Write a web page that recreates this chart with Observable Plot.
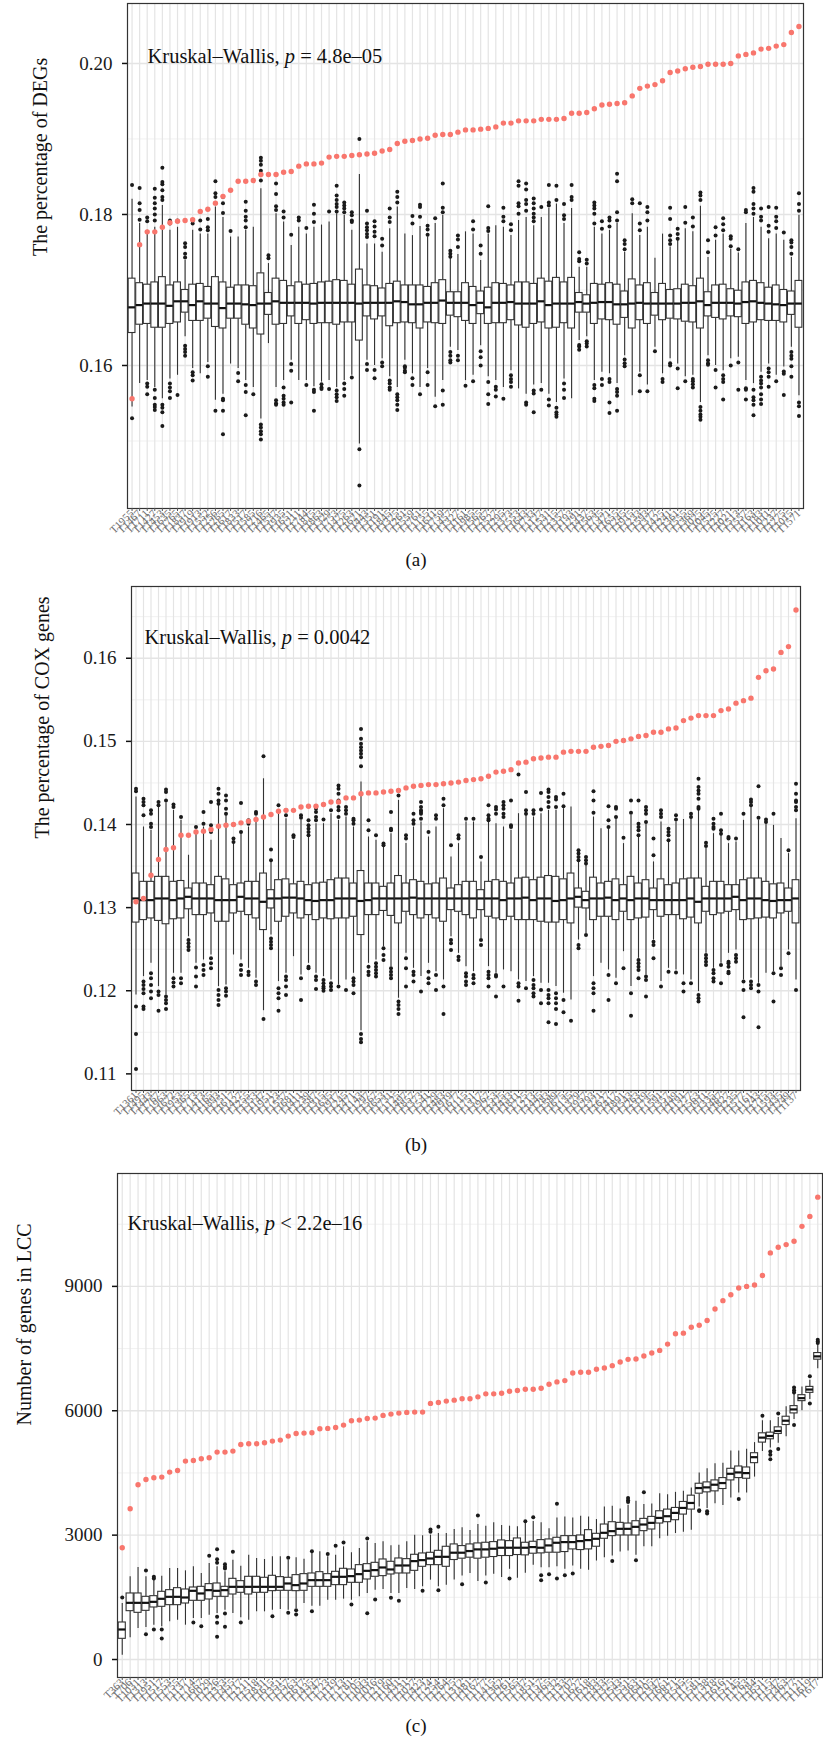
<!DOCTYPE html>
<html>
<head>
<meta charset="utf-8">
<script src="https://cdn.jsdelivr.net/npm/d3@7"></script>
<script src="https://cdn.jsdelivr.net/npm/@observablehq/plot@0.6"></script>
<style>
  html, body { margin: 0; padding: 0; background: #fff; }
  #page { position: relative; width: 823px; height: 1738px; font-family: "Liberation Serif", "DejaVu Serif", serif; }
  .panel { position: absolute; left: 0; }
  .cap { position: absolute; width: 100px; text-align: center; font-size: 19px; line-height: 20px; color: #111; }
</style>
</head>
<body>
<div id="page"></div>
<script>
// ---------- Panel (a): percentage of DEGs ----------
const namesA = ["T1955","T1467","T1711","T1427","T1453","T1635","T1765","T1837","T1919","T1913",
"T1552","T1256","T1265","T1617","T1833","T1517","T1585","T1216","T1465","T1537",
"T1935","T1651","T1211","T1744","T1815","T1863","T1329","T1753","T1475","T1263",
"T1621","T1443","T1351","T1191","T1845","T1325","T1261","T1559","T1761","T1155",
"T1611","T1759","T1457","T1327","T1161","T1985","T1565","T1267","T1527","T1295",
"T1373","T1553","T1643","T1733","T1127","T1531","T1215","T1357","T1193","T1291",
"T1437","T1563","T1735","T1471","T1655","T1245","T1915","T1233","T1593","T1377",
"T1425","T1241","T1361","T1555","T1369","T1025","T1045","T1525","T1227","T1021",
"T1513","T1557","T1163","T1183","T1011","T1237","T1275","T1015","T1571"];
const obsA = [0.1556,0.1760,0.1777,0.1777,0.1783,0.1789,0.1791,0.1792,0.1793,0.1804,
0.1807,0.1815,0.1824,0.1832,0.1844,0.1844,0.1845,0.1853,0.1853,0.1853,
0.1856,0.1857,0.1864,0.1867,0.1867,0.1868,0.1876,0.1877,0.1877,0.1878,
0.1879,0.1880,0.1881,0.1884,0.1886,0.1894,0.1897,0.1898,0.1900,0.1901,
0.1905,0.1906,0.1906,0.1909,0.1912,0.1912,0.1913,0.1914,0.1916,0.1921,
0.1921,0.1924,0.1924,0.1924,0.1926,0.1926,0.1926,0.1927,0.1934,0.1934,
0.1935,0.1940,0.1945,0.1946,0.1947,0.1948,0.1957,0.1967,0.1970,0.1972,
0.1977,0.1988,0.1990,0.1993,0.1995,0.1996,0.1999,0.1999,0.1999,0.2000,
0.2010,0.2012,0.2014,0.2019,0.2020,0.2023,0.2025,0.2041,0.2049];
const q1A = [0.1643,0.1654,0.1655,0.1650,0.1650,0.1655,0.1657,0.1670,0.1659,0.1659,
0.1662,0.1651,0.1649,0.1662,0.1662,0.1654,0.1649,0.1641,0.1667,0.1654,
0.1655,0.1665,0.1655,0.1660,0.1655,0.1656,0.1656,0.1654,0.1657,0.1657,
0.1633,0.1665,0.1661,0.1665,0.1652,0.1656,0.1657,0.1656,0.1649,0.1657,
0.1656,0.1655,0.1666,0.1664,0.1659,0.1655,0.1668,0.1655,0.1656,0.1656,
0.1660,0.1653,0.1650,0.1655,0.1657,0.1649,0.1650,0.1656,0.1649,0.1670,
0.1670,0.1655,0.1661,0.1660,0.1654,0.1663,0.1649,0.1660,0.1655,0.1666,
0.1660,0.1662,0.1661,0.1658,0.1657,0.1649,0.1665,0.1663,0.1661,0.1665,
0.1664,0.1655,0.1657,0.1660,0.1659,0.1659,0.1657,0.1667,0.1650];
const medA = [0.1677,0.1680,0.1682,0.1682,0.1682,0.1679,0.1685,0.1685,0.1680,0.1685,
0.1682,0.1682,0.1676,0.1682,0.1682,0.1681,0.1680,0.1682,0.1682,0.1685,
0.1683,0.1683,0.1683,0.1683,0.1682,0.1683,0.1683,0.1683,0.1683,0.1683,
0.1682,0.1683,0.1683,0.1683,0.1683,0.1685,0.1684,0.1681,0.1681,0.1683,
0.1683,0.1686,0.1683,0.1683,0.1683,0.1680,0.1683,0.1677,0.1683,0.1683,
0.1684,0.1682,0.1682,0.1682,0.1685,0.1680,0.1682,0.1682,0.1682,0.1684,
0.1682,0.1683,0.1684,0.1684,0.1681,0.1681,0.1682,0.1683,0.1682,0.1682,
0.1682,0.1682,0.1682,0.1683,0.1683,0.1685,0.1680,0.1683,0.1683,0.1683,
0.1682,0.1684,0.1685,0.1683,0.1682,0.1681,0.1680,0.1682,0.1682];
const q3A = [0.1715,0.1709,0.1707,0.1710,0.1717,0.1706,0.1710,0.1700,0.1707,0.1708,
0.1704,0.1717,0.1710,0.1703,0.1706,0.1706,0.1705,0.1722,0.1696,0.1715,
0.1712,0.1705,0.1710,0.1707,0.1708,0.1710,0.1711,0.1713,0.1712,0.1707,
0.1727,0.1706,0.1705,0.1702,0.1708,0.1711,0.1706,0.1706,0.1706,0.1704,
0.1709,0.1713,0.1697,0.1697,0.1709,0.1704,0.1698,0.1703,0.1709,0.1708,
0.1706,0.1710,0.1710,0.1708,0.1715,0.1711,0.1716,0.1710,0.1716,0.1696,
0.1693,0.1708,0.1707,0.1709,0.1707,0.1698,0.1714,0.1706,0.1709,0.1696,
0.1708,0.1700,0.1701,0.1707,0.1705,0.1715,0.1697,0.1706,0.1707,0.1701,
0.1699,0.1710,0.1712,0.1709,0.1703,0.1706,0.1700,0.1698,0.1712];
const loA = [0.1545,0.1576,0.1580,0.1571,0.1556,0.1582,0.1587,0.1638,0.1596,0.1589,
0.1604,0.1554,0.1562,0.1602,0.1596,0.1580,0.1571,0.1529,0.1629,0.1571,
0.1580,0.1607,0.1580,0.1580,0.1572,0.1578,0.1580,0.1571,0.1580,0.1587,
0.1496,0.1607,0.1600,0.1609,0.1585,0.1571,0.1607,0.1589,0.1571,0.1596,
0.1558,0.1580,0.1624,0.1620,0.1580,0.1587,0.1626,0.1585,0.1580,0.1571,
0.1593,0.1569,0.1562,0.1574,0.1576,0.1562,0.1551,0.1582,0.1556,0.1633,
0.1638,0.1580,0.1591,0.1589,0.1576,0.1613,0.1560,0.1591,0.1574,0.1624,
0.1589,0.1609,0.1602,0.1585,0.1587,0.1551,0.1613,0.1600,0.1593,0.1609,
0.1611,0.1580,0.1576,0.1591,0.1602,0.1587,0.1598,0.1624,0.1560];
const hiA = [0.1820,0.1788,0.1779,0.1783,0.1812,0.1779,0.1783,0.1739,0.1779,0.1774,
0.1774,0.1810,0.1796,0.1770,0.1770,0.1779,0.1783,0.1834,0.1735,0.1801,
0.1790,0.1759,0.1783,0.1774,0.1783,0.1786,0.1790,0.1801,0.1799,0.1779,
0.1853,0.1761,0.1761,0.1750,0.1781,0.1810,0.1774,0.1772,0.1784,0.1770,
0.1788,0.1799,0.1743,0.1747,0.1777,0.1774,0.1739,0.1774,0.1785,0.1783,
0.1772,0.1792,0.1796,0.1785,0.1796,0.1808,0.1814,0.1788,0.1808,0.1730,
0.1730,0.1783,0.1774,0.1779,0.1788,0.1750,0.1801,0.1772,0.1783,0.1742,
0.1774,0.1757,0.1766,0.1781,0.1777,0.1811,0.1743,0.1766,0.1774,0.1754,
0.1749,0.1788,0.1796,0.1783,0.1768,0.1774,0.1766,0.1743,0.1799];
const outA = [
[0.1839,0.1530],[0.1835,0.1815,0.1806,0.1793],[0.1796,0.1791,0.1576,0.1572,0.1562],
[0.1834,0.1822,0.1815,0.1808,0.1800,0.1792,0.1568,0.1557,0.1548,0.1545,0.1541],
[0.1862,0.1843,0.1840,0.1832,0.1823,0.1819,0.1548,0.1544,0.1538,0.1520],
[0.1792,0.1788,0.1576,0.1571,0.1566,0.1557],[0.1792,0.1561],
[0.1762,0.1757,0.1748,0.1743,0.1626,0.1622,0.1618,0.1613],[0.1792,0.1788,0.1591,0.1587,0.1580],
[0.1792,0.1780],[0.1794,0.1783,0.1779,0.1599,0.1585],[0.1844,0.1828,0.1823,0.1815,0.1540],
[0.1823,0.1815,0.1802,0.1556,0.1554,0.1540,0.1509],[0.1778],[0.1590,0.1579],
[0.1817,0.1805,0.1797,0.1792,0.1783,0.1574,0.1565,0.1534],[0.1562],
[0.1875,0.1871,0.1866,0.1858,0.1845,0.1522,0.1518,0.1513,0.1509,0.1502],[0.1746,0.1742],
[0.1841,0.1827,0.1811,0.1806,0.1554,0.1550,0.1548],[0.1804,0.1796,0.1571,0.1560,0.1556,0.1551,0.1548],
[0.1773,0.1602,0.1593,0.1551],[0.1796,0.1792],[0.1782,0.1574],[0.1813,0.1801,0.1790,0.1568,0.1565,0.1540],
[0.1575,0.1571,0.1569],[0.1804,0.1569],[0.1838,0.1825,0.1819,0.1814,0.1810,0.1804,0.1567,0.1562,0.1558,0.1553],
[0.1816,0.1812,0.1808,0.1803,0.1576,0.1569,0.1560],[0.1803,0.1799,0.1792,0.1790,0.1584],
[0.1900,0.1489,0.1441],[0.1805,0.1788,0.1783,0.1779,0.1774,0.1770,0.1602,0.1594],
[0.1791,0.1784,0.1777,0.1771,0.1594,0.1583],[0.1768,0.1759,0.1604,0.1599],
[0.1808,0.1796,0.1790,0.1580,0.1576,0.1571,0.1568],[0.1830,0.1823,0.1816,0.1562,0.1558,0.1554,0.1548,0.1541],
[0.1599,0.1597,0.1593,0.1591],[0.1798,0.1788,0.1583,0.1574],[0.1813,0.1810,0.1797,0.1562],
[0.1785,0.1780,0.1773,0.1591,0.1574],[0.1795,0.1546],[0.1841,0.1809,0.1803,0.1567,0.1548],
[0.1752,0.1748,0.1744,0.1618,0.1613,0.1607,0.1604],[0.1772,0.1767,0.1757,0.1613,0.1607],[0.1573],
[0.1791,0.1780,0.1579],[0.1759,0.1748,0.1619,0.1611,0.1600],[0.1811,0.1782,0.1778,0.1578,0.1562,0.1549],
[0.1572,0.1568,0.1559],[0.1809,0.1797,0.1791,0.1556],[0.1787,0.1779,0.1587,0.1582,0.1578,0.1572],
[0.1844,0.1838,0.1815,0.1811,0.1801],[0.1841,0.1833,0.1819,0.1814,0.1805,0.1551,0.1548],
[0.1821,0.1815,0.1808,0.1801,0.1796,0.1791,0.1567,0.1563,0.1538],[0.1810,0.1568],
[0.1839,0.1816,0.1812,0.1555,0.1547],[0.1838,0.1819,0.1544,0.1538,0.1535,0.1532],
[0.1814,0.1799,0.1794,0.1576,0.1568,0.1557],[0.1839,0.1823,0.1819],
[0.1750,0.1741,0.1738,0.1627,0.1625,0.1621],[0.1740,0.1735,0.1632,0.1629,0.1625],
[0.1816,0.1812,0.1808,0.1801,0.1788,0.1574,0.1570,0.1556,0.1553],[0.1791,0.1781,0.1582,0.1574],
[0.1796,0.1792,0.1784,0.1582,0.1578,0.1551,0.1537],[0.1854,0.1844,0.1803,0.1792,0.1569,0.1565,0.1560,0.1540],
[0.1766,0.1761,0.1754,0.1608,0.1603,0.1599],[0.1820,0.1815],[0.1815,0.1788,0.1779,0.1587,0.1566],
[0.1810,0.1803,0.1792,0.1566],[0.1619],[0.1582,0.1578],[0.1809,0.1794,0.1772,0.1766,0.1761,0.1603,0.1600],
[0.1781,0.1774,0.1768,0.1596,0.1570],[0.1810,0.1789,0.1579],[0.1796,0.1784,0.1582,0.1579,0.1575,0.1571],
[0.1829,0.1825,0.1819,0.1545,0.1540,0.1535,0.1532,0.1528],[0.1766,0.1750,0.1607,0.1603,0.1601],
[0.1783,0.1772,0.1594,0.1571],[0.1795,0.1787,0.1779,0.1587,0.1582,0.1578,0.1555],
[0.1771,0.1768,0.1758,0.1600],[0.1754,0.1604,0.1568],[0.1806,0.1803,0.1570,0.1568,0.1555],
[0.1835,0.1830,0.1814,0.1808,0.1801,0.1568,0.1558,0.1554,0.1548,0.1534],
[0.1808,0.1797,0.1792,0.1585,0.1580,0.1576,0.1571,0.1562,0.1555,0.1549],
[0.1810,0.1785,0.1777,0.1596,0.1591,0.1585,0.1572],[0.1809,0.1797,0.1791,0.1782,0.1579],
[0.1776,0.1592,0.1589,0.1561],[0.1766,0.1763,0.1757,0.1748,0.1618,0.1613,0.1609,0.1599,0.1585],
[0.1828,0.1814,0.1805,0.1551,0.1546,0.1533]];
const ticksA = [0.16, 0.18, 0.20];
const minorA = [0.15, 0.17, 0.19];

// ---------- Panel (b): percentage of COX genes ----------
const namesB = ["T1361","T1495","T1443","T1767","T1963","T1672","T1953","T1365","T1713","T1413",
"T1165","T1893","T1251","T1617","T1427","T1255","T1353","T1147","T1951","T1723",
"T1557","T1681","T1411","T1239","T1587","T1315","T1635","T1917","T1245","T1471",
"T1143","T1297","T1567","T1653","T1731","T1125","T1497","T1857","T1373","T1541",
"T1229","T1483","T1919","T1677","T1115","T1751","T1317","T1967","T1253","T1425",
"T1433","T1811","T1725","T1213","T1445","T1283","T1589","T1675","T1135","T1379",
"T1957","T1293","T1221","T1627","T1417","T1891","T1543","T1263","T1319","T1735",
"T1591","T1357","T1449","T1191","T1277","T1563","T1911","T1335","T1487","T1827",
"T1235","T1577","T1161","T1243","T1715","T1593","T1435","T1249","T1137"];
const obsB = [0.1307,0.1311,0.1339,0.1358,0.1370,0.1372,0.1387,0.1387,0.1391,0.1392,
0.1394,0.1398,0.1399,0.1400,0.1402,0.1404,0.1406,0.1409,0.1412,0.1416,
0.1417,0.1417,0.1421,0.1422,0.1422,0.1424,0.1427,0.1427,0.1432,0.1432,
0.1437,0.1438,0.1438,0.1439,0.1440,0.1441,0.1444,0.1446,0.1447,0.1448,
0.1448,0.1449,0.1450,0.1451,0.1453,0.1454,0.1455,0.1458,0.1463,0.1464,
0.1466,0.1474,0.1475,0.1479,0.1480,0.1481,0.1481,0.1487,0.1488,0.1488,
0.1488,0.1493,0.1494,0.1495,0.1500,0.1501,0.1503,0.1506,0.1507,0.1511,
0.1511,0.1515,0.1516,0.1525,0.1528,0.1531,0.1531,0.1531,0.1537,0.1539,
0.1546,0.1549,0.1552,0.1577,0.1585,0.1587,0.1607,0.1614,0.1658];
const q1B = [0.1282,0.1285,0.1287,0.1284,0.1280,0.1286,0.1287,0.1298,0.1291,0.1291,
0.1293,0.1283,0.1283,0.1293,0.1295,0.1291,0.1287,0.1273,0.1299,0.1283,
0.1289,0.1293,0.1287,0.1291,0.1285,0.1287,0.1286,0.1287,0.1287,0.1289,
0.1267,0.1291,0.1291,0.1296,0.1290,0.1281,0.1295,0.1291,0.1287,0.1291,
0.1287,0.1283,0.1297,0.1295,0.1291,0.1287,0.1297,0.1289,0.1287,0.1285,
0.1289,0.1285,0.1285,0.1285,0.1283,0.1282,0.1282,0.1285,0.1281,0.1300,
0.1299,0.1285,0.1289,0.1289,0.1285,0.1295,0.1285,0.1287,0.1288,0.1297,
0.1289,0.1291,0.1291,0.1286,0.1288,0.1281,0.1295,0.1291,0.1293,0.1295,
0.1297,0.1285,0.1286,0.1287,0.1288,0.1287,0.1293,0.1295,0.1281];
const medB = [0.1311,0.1309,0.1309,0.1311,0.1311,0.1309,0.1311,0.1313,0.1311,0.1311,
0.1311,0.1309,0.1309,0.1309,0.1313,0.1311,0.1311,0.1307,0.1311,0.1311,
0.1312,0.1312,0.1311,0.1309,0.1308,0.1309,0.1309,0.1311,0.1311,0.1311,
0.1308,0.1309,0.1311,0.1311,0.1311,0.1311,0.1311,0.1312,0.1311,0.1311,
0.1311,0.1311,0.1311,0.1311,0.1311,0.1311,0.1311,0.1311,0.1311,0.1309,
0.1311,0.1311,0.1312,0.1309,0.1311,0.1311,0.1308,0.1309,0.1311,0.1313,
0.1309,0.1311,0.1311,0.1312,0.1309,0.1311,0.1309,0.1311,0.1311,0.1309,
0.1309,0.1309,0.1309,0.1309,0.1311,0.1307,0.1311,0.1311,0.1311,0.1311,
0.1313,0.1309,0.1311,0.1311,0.1309,0.1308,0.1309,0.1309,0.1311];
const q3B = [0.1341,0.1331,0.1331,0.1337,0.1337,0.1331,0.1332,0.1323,0.1329,0.1329,
0.1327,0.1337,0.1334,0.1327,0.1329,0.1331,0.1331,0.1341,0.1321,0.1333,
0.1334,0.1328,0.1331,0.1327,0.1329,0.1330,0.1333,0.1335,0.1335,0.1329,
0.1344,0.1329,0.1329,0.1325,0.1329,0.1338,0.1329,0.1333,0.1331,0.1328,
0.1329,0.1335,0.1323,0.1327,0.1331,0.1331,0.1321,0.1331,0.1333,0.1331,
0.1329,0.1335,0.1336,0.1333,0.1336,0.1338,0.1337,0.1334,0.1341,0.1323,
0.1319,0.1336,0.1329,0.1331,0.1334,0.1327,0.1337,0.1329,0.1333,0.1323,
0.1334,0.1327,0.1329,0.1334,0.1335,0.1335,0.1325,0.1331,0.1331,0.1327,
0.1327,0.1333,0.1335,0.1335,0.1331,0.1328,0.1329,0.1323,0.1333];
const loB = [0.1195,0.1217,0.1233,0.1205,0.1195,0.1221,0.1221,0.1265,0.1233,0.1237,
0.1243,0.1205,0.1207,0.1243,0.1237,0.1227,0.1215,0.1176,0.1267,0.1211,
0.1221,0.1241,0.1219,0.1233,0.1221,0.1217,0.1213,0.1207,0.1213,0.1221,
0.1152,0.1233,0.1237,0.1253,0.1229,0.1191,0.1245,0.1227,0.1217,0.1233,
0.1223,0.1213,0.1265,0.1245,0.1229,0.1223,0.1263,0.1229,0.1221,0.1225,
0.1223,0.1213,0.1211,0.1217,0.1209,0.1209,0.1205,0.1197,0.1189,0.1261,
0.1269,0.1217,0.1233,0.1225,0.1215,0.1247,0.1205,0.1239,0.1219,0.1261,
0.1211,0.1227,0.1225,0.1219,0.1213,0.1199,0.1245,0.1227,0.1233,0.1245,
0.1249,0.1213,0.1215,0.1209,0.1221,0.1223,0.1229,0.1249,0.1213];
const hiB = [0.1433,0.1397,0.1393,0.1421,0.1426,0.1417,0.1405,0.1363,0.1393,0.1397,
0.1381,0.1423,0.1411,0.1377,0.1389,0.1397,0.1409,0.1455,0.1355,0.1413,
0.1407,0.1381,0.1405,0.1385,0.1401,0.1401,0.1413,0.1405,0.1409,0.1397,
0.1451,0.1385,0.1381,0.1373,0.1389,0.1429,0.1377,0.1397,0.1403,0.1385,
0.1397,0.1419,0.1361,0.1377,0.1403,0.1403,0.1355,0.1403,0.1401,0.1397,
0.1393,0.1413,0.1411,0.1409,0.1413,0.1417,0.1417,0.1419,0.1421,0.1355,
0.1351,0.1409,0.1395,0.1395,0.1407,0.1377,0.1411,0.1385,0.1401,0.1355,
0.1403,0.1379,0.1403,0.1406,0.1407,0.1417,0.1371,0.1389,0.1387,0.1377,
0.1379,0.1405,0.1421,0.1405,0.1401,0.1399,0.1383,0.1365,0.1407];
const outB = [
[0.1443,0.1440,0.1181,0.1148,0.1106],[0.1431,0.1427,0.1423,0.1411,0.1211,0.1207,0.1202,0.1197,0.1181,0.1178],
[0.1417,0.1413,0.1401,0.1397,0.1221,0.1215,0.1207,0.1199,0.1191],[0.1427,0.1423,0.1199,0.1195,0.1176],
[0.1442,0.1439,0.1429,0.1193,0.1189,0.1185,0.1178],[0.1424,0.1421,0.1215,0.1210,0.1205],[0.1409,0.1215,0.1209],
[0.1261,0.1257,0.1253,0.1249],[0.1397,0.1228,0.1217,0.1205],[0.1415,0.1401,0.1231,0.1225,0.1219],
[0.1427,0.1399,0.1391,0.1239,0.1233,0.1227],[0.1443,0.1437,0.1429,0.1425,0.1201,0.1195,0.1189,0.1183],
[0.1435,0.1429,0.1419,0.1413,0.1203,0.1199,0.1194],[0.1383,0.1379],[0.1426,0.1391,0.1231,0.1225,0.1219],
[0.1405,0.1401,0.1223,0.1219],[0.1415,0.1413,0.1211,0.1207],[0.1482,0.1166],
[0.1370,0.1357,0.1263,0.1259,0.1255,0.1251],[0.1423,0.1203,0.1197,0.1191,0.1176],
[0.1417,0.1411,0.1217,0.1213,0.1205,0.1195],[0.1387,0.1385],[0.1411,0.1408,0.1215,0.1189],
[0.1405,0.1399,0.1395,0.1391,0.1387,0.1229,0.1227],[0.1419,0.1415,0.1409,0.1405,0.1217,0.1213,0.1202],
[0.1406,0.1213,0.1209,0.1205,0.1203,0.1200],[0.1417,0.1209,0.1205,0.1201],
[0.1447,0.1443,0.1437,0.1429,0.1421,0.1417,0.1409,0.1205],[0.1421,0.1417,0.1413,0.1201],
[0.1407,0.1405,0.1401,0.1215,0.1211,0.1207,0.1197],
[0.1515,0.1503,0.1497,0.1493,0.1489,0.1485,0.1481,0.1470,0.1148,0.1142,0.1138],
[0.1405,0.1393,0.1229,0.1223,0.1219],[0.1387,0.1233,0.1229,0.1225,0.1221,0.1217],
[0.1377,0.1375,0.1251,0.1243,0.1237],[0.1415,0.1395,0.1393,0.1227,0.1223,0.1219,0.1215],
[0.1441,0.1435,0.1187,0.1183,0.1178,0.1172],[0.1387,0.1383,0.1239,0.1227,0.1205],
[0.1413,0.1405,0.1401,0.1223,0.1219,0.1211],[0.1427,0.1421,0.1417,0.1415,0.1413,0.1407,0.1199],
[0.1391,0.1223,0.1215,0.1209],[0.1411,0.1407,0.1219,0.1201],[0.1431,0.1423,0.1205,0.1172],
[0.1375,0.1261,0.1257,0.1249],[0.1387,0.1383,0.1241,0.1237],[0.1407,0.1221,0.1217,0.1211,0.1207],
[0.1407,0.1219,0.1215,0.1209],[0.1361,0.1261,0.1255],[0.1423,0.1411,0.1407,0.1405,0.1223,0.1219,0.1215,0.1205],
[0.1421,0.1418,0.1413,0.1219,0.1217,0.1193],[0.1427,0.1423,0.1419,0.1413,0.1409,0.1205],
[0.1429,0.1399,0.1397],[0.1460,0.1209,0.1205,0.1188],[0.1439,0.1417,0.1413,0.1203],
[0.1417,0.1413,0.1213,0.1207,0.1203,0.1197,0.1193],[0.1438,0.1418,0.1201,0.1185],
[0.1442,0.1439,0.1433,0.1427,0.1421,0.1201,0.1195,0.1191,0.1185,0.1162],
[0.1433,0.1430,0.1421,0.1197,0.1191,0.1185,0.1178,0.1160],[0.1437,0.1422,0.1189,0.1174],[0.1164],
[0.1369,0.1365,0.1361,0.1357,0.1255,0.1251],[0.1361,0.1357,0.1353,0.1267],
[0.1440,0.1429,0.1414,0.1209,0.1203,0.1197,0.1176],[],[0.1422,0.1405,0.1397,0.1219,0.1189],
[0.1421,0.1419,0.1409,0.1209],[0.1384,0.1227],[0.1429,0.1414,0.1197,0.1170],
[0.1429,0.1401,0.1397,0.1393,0.1387,0.1237,0.1233,0.1229,0.1225,0.1215],
[0.1421,0.1417,0.1413,0.1403,0.1217,0.1213,0.1193],[0.1383,0.1363,0.1259,0.1255,0.1239],
[0.1417,0.1413,0.1409,0.1205],[0.1395,0.1391,0.1387,0.1381,0.1223],[0.1411,0.1406,0.1222],
[0.1209,0.1199],[0.1413,0.1409,0.1209],[0.1455,0.1445,0.1441,0.1437,0.1431,0.1421,0.1419,0.1195,0.1191,0.1187],
[0.1378,0.1374,0.1243,0.1239,0.1235,0.1231],[0.1407,0.1401,0.1397,0.1395,0.1225,0.1221,0.1215,0.1211],
[0.1413,0.1393,0.1389,0.1231,0.1209],[0.1385,0.1383,0.1235,0.1233,0.1229,0.1223,0.1221],
[0.1383,0.1243,0.1239,0.1235],[0.1413,0.1211,0.1201,0.1168],[0.1430,0.1427,0.1423,0.1211,0.1207,0.1203],
[0.1446,0.1408,0.1207,0.1199,0.1156],[0.1406,0.1403],[0.1413,0.1221,0.1187],[0.1227,0.1219],
[0.1369,0.1245],[0.1449,0.1437,0.1429,0.1427,0.1421,0.1417,0.1201]];
const ticksB = [0.11, 0.12, 0.13, 0.14, 0.15, 0.16];
const minorB = [0.115, 0.125, 0.135, 0.145, 0.155, 0.165];

// ---------- Panel (c): number of genes in LCC ----------
const namesC = ["T363","T706","T1031","T1313","T1951","T1517","T1553","T1755","T1137","T1714",
"T1667","T1029","T1226","T1353","T1455","T1217","T1211","T1518","T1831","T1615",
"T1351","T1357","T1263","T1617","T1435","T1247","T1723","T1119","T1713","T1781",
"T1705","T1043","T1016","T1219","T1160","T1431","T1231","T1027","T1423","T1724",
"T1254","T1264","T1725","T1312","T1481","T1167","T1177","T1415","T1362","T1261",
"T1565","T1737","T1851","T1157","T1465","T1232","T1133","T1707","T1627","T1618",
"T1283","T1433","T1325","T1543","T1551","T1363","T1641","T1205","T1347","T1661",
"T1871","T1545","T1175","T1581","T1738","T1218","T1616","T1521","T1145","T1763",
"T1284","T1651","T1115","T1547","T1463","T1277","T1121","T1619","T617"];
const obsC = [2694,3636,4215,4343,4384,4400,4520,4560,4786,4802,
4842,4866,5003,5003,5027,5188,5204,5204,5228,5268,
5292,5389,5453,5461,5469,5566,5574,5598,5654,5759,
5775,5815,5823,5888,5920,5944,5960,5968,5968,6177,
6201,6233,6256,6288,6288,6336,6408,6408,6424,6472,
6488,6520,6520,6544,6640,6696,6728,6912,6928,6928,
7000,7032,7088,7176,7240,7248,7320,7392,7456,7608,
7856,7872,8016,8064,8176,8456,8656,8800,8960,9000,
9032,9264,9808,9944,10008,10088,10448,10688,11152];
const q1C = [499,1166,1126,1174,1255,1271,1311,1311,1351,1416,
1416,1448,1512,1512,1568,1609,1568,1609,1609,1649,
1657,1657,1649,1657,1753,1753,1753,1794,1794,1850,
1850,1930,1995,2011,2051,2075,2075,2139,2236,2276,
2276,2236,2400,2432,2456,2432,2456,2472,2496,2496,
2520,2512,2552,2560,2576,2576,2592,2656,2640,2656,
2720,2912,2976,2992,2992,2992,3096,3136,3280,3312,
3360,3496,3616,4000,4032,4056,4112,4320,4376,4360,
4736,5232,5312,5440,5656,5936,6232,6432,7232];
const medC = [724,1367,1367,1367,1391,1464,1512,1512,1496,1657,
1593,1673,1657,1673,1753,1753,1753,1753,1753,1753,
1753,1834,1794,1834,1914,1914,1914,1995,1995,2011,
2059,2139,2156,2220,2172,2268,2268,2373,2397,2437,
2477,2477,2576,2576,2616,2656,2656,2672,2696,2696,
2696,2696,2712,2696,2752,2816,2832,2832,2856,2880,
2912,3056,3096,3152,3152,3200,3256,3296,3416,3456,
3536,3656,3776,4136,4152,4216,4256,4480,4512,4496,
4880,5352,5392,5512,5760,6032,6304,6512,7312];
const q3C = [893,1593,1593,1512,1528,1633,1673,1721,1689,1737,
1753,1818,1834,1753,1946,1890,1995,1995,1971,2019,
1987,1971,2035,2059,2075,2107,2059,2115,2188,2172,
2276,2300,2332,2413,2357,2437,2421,2526,2558,2574,
2622,2719,2776,2736,2776,2800,2816,2832,2872,2856,
2920,2816,2840,2880,2896,2936,2976,2976,2992,3120,
3032,3256,3312,3296,3280,3336,3392,3440,3576,3616,
3656,3800,3952,4240,4272,4320,4376,4600,4656,4632,
4976,5456,5472,5600,5856,6112,6376,6576,7392];
const loC = [105,523,748,772,828,788,909,949,828,989,
989,1070,1110,1190,1110,1010,949,1150,1150,1190,
1206,1190,1231,1351,1287,1287,1432,1432,1456,1432,
1512,1593,1673,1689,1593,1593,1713,1689,1753,1914,
1753,1794,1920,2016,2072,1880,2016,2056,1976,2176,
1960,2080,2272,2216,2216,2240,2176,2256,2176,2152,
2376,2456,2496,2592,2616,2512,2720,2720,2912,2976,
3040,3072,3120,3680,3640,3760,3712,3896,4016,4016,
4400,5016,5100,5216,5376,5792,6000,6272,7016];
const hiC = [1351,1995,2220,1995,1914,2011,2196,2196,2139,2236,
2075,2316,2236,2115,2397,2252,2517,2437,2413,2477,
2477,2397,2453,2421,2558,2598,2477,2517,2718,2574,
2678,2839,2799,2839,2743,2759,2839,3000,2984,3000,
3040,3040,3136,3176,3112,3256,3216,3296,3232,3216,
3200,3290,3330,3296,3152,3416,3440,3416,3456,3440,
3376,3680,3696,3632,3720,3816,3736,3752,4000,3976,
4032,4056,4136,4496,4600,4720,4736,5032,5032,5072,
5232,5760,5760,5840,6096,6416,6576,6736,7590];
const outC = [
[1496],[],[],[2147,611],[1995,1954,724],[724,507],[],[],[],[893],
[804],[2501],[2662,2421,2332,1030,885,547],[2300,2236,2196,1110,788],[2598],[893],[],[],[],[1046],
[],[2453,1126],[1190,1086],[],[2614,1166],[],[2542],[2743],[2823],[1327],
[],[2920,1118],[1448],[],[1488],[1416],[],[],[1657],[3137,3081],
[3201,1673],[],[],[1816],[],[3472],[1856],[],[],[1952],
[],[3336],[3432],[2032,1912],[2056],[3760,1952],[2032],[2072],[],[],
[],[],[2376],[],[3896,3840,3800],[2392],[4032],[],[],[],
[],[],[],[3600,3580],[3576,3520],[],[],[],[3872],[],
[],[5880],[5016,4936,4832],[5936,5080],[],[6560,6496,6440,5656],[],[6832,6176],[7712,7672,7632]];
const ticksC = [0, 3000, 6000, 9000];
const minorC = [1500, 4500, 7500, 10500];

// ---------- drawing ----------
const serif = "'Liberation Serif', 'DejaVu Serif', serif";

function boxPanel(cfg) {
  const idx = d3.range(cfg.names.length);
  const rows = idx.map(i => ({
    i, obs: cfg.obs[i], q1: cfg.q1[i], med: cfg.med[i], q3: cfg.q3[i], lo: cfg.lo[i], hi: cfg.hi[i]
  }));
  const outliers = idx.flatMap(i => cfg.out[i].map(v => ({i, v})));
  const plot = Plot.plot({
    width: 823,
    height: cfg.height,
    marginTop: cfg.mt, marginBottom: cfg.mb, marginLeft: cfg.ml, marginRight: cfg.mr,
    style: {fontFamily: serif, background: "transparent", color: "#1a1a1a", overflow: "visible"},
    x: {type: "band", domain: idx, paddingInner: 0.1, paddingOuter: 0.15},
    y: {domain: cfg.domain},
    marks: [
      // background grid
      Plot.ruleY(cfg.minor, {stroke: "#ededed", strokeWidth: 0.8}),
      Plot.ruleY(cfg.ticks, {stroke: "#e4e4e4", strokeWidth: 1.4}),
      Plot.ruleX(idx, {stroke: "#e4e4e4", strokeWidth: 1.2}),
      // whiskers
      Plot.ruleX(rows, {x: "i", y1: "lo", y2: "q1", stroke: "#333", strokeWidth: 1.1}),
      Plot.ruleX(rows, {x: "i", y1: "q3", y2: "hi", stroke: "#333", strokeWidth: 1.1}),
      // boxes and medians
      Plot.barY(rows, {x: "i", y1: "q1", y2: "q3", fill: "white", stroke: "#333", strokeWidth: 1.1}),
      Plot.tickY(rows, {x: "i", y: "med", stroke: "#111", strokeWidth: 2.2}),
      // outliers
      Plot.dot(outliers, {x: "i", y: "v", r: 2, fill: "#1a1a1a", stroke: "none"}),
      // observed value for each sample
      Plot.dot(rows, {x: "i", y: "obs", r: 2.7, fill: "#F8766D", stroke: "none"}),
      Plot.frame({stroke: "#333", strokeWidth: 1.2}),
      Plot.axisY({ticks: cfg.ticks, tickFormat: cfg.fmt, tickSize: 5, tickPadding: 10, fontSize: 19,
                  label: null, strokeWidth: 1.5, stroke: "#111", fill: "#1a1a1a"}),
      Plot.axisX({tickFormat: i => cfg.names[i], tickRotate: -45, fontSize: 11, tickSize: 3, tickPadding: 0,
                  label: null, stroke: "#555", fill: "#6e6e6e"}),
      Plot.text([cfg.title], {frameAnchor: "left", rotate: -90, dx: cfg.titleDx, lineAnchor: "bottom",
                              fontSize: 20, fill: "#111"}),
      Plot.text([cfg.test], {frameAnchor: "top-left", dx: cfg.testDx, dy: cfg.testDy, lineAnchor: "bottom",
                             textAnchor: "start", fontSize: 20.5, fill: "#111"})
    ]
  });
  // italic p in the test annotation
  d3.select(plot).selectAll("text").filter(function () { return this.textContent === cfg.test; })
    .each(function () {
      const [head, tail] = cfg.test.split(", p ");
      const t = d3.select(this).text(null);
      t.append("tspan").text(head + ", ");
      t.append("tspan").attr("font-style", "italic").text("p");
      t.append("tspan").text(" " + tail);
    });
  const holder = document.createElement("div");
  holder.className = "panel";
  holder.style.top = cfg.top + "px";
  holder.appendChild(plot);
  return holder;
}

const page = document.getElementById("page");

page.appendChild(boxPanel({
  names: namesA, obs: obsA, q1: q1A, med: medA, q3: q3A, lo: loA, hi: hiA, out: outA,
  ticks: ticksA, minor: minorA, fmt: d3.format(".2f"), domain: [0.14106, 0.20794],
  top: 0, height: 545, mt: 3, mb: 37, ml: 127, mr: 20,
  title: "The percentage of DEGs", titleDx: -81,
  test: "Kruskal–Wallis, p = 4.8e–05", testDx: 20, testDy: 59
}));
page.appendChild(boxPanel({
  names: namesB, obs: obsB, q1: q1B, med: medB, q3: q3B, lo: loB, hi: hiB, out: outB,
  ticks: ticksB, minor: minorB, fmt: d3.format(".2f"), domain: [0.1080, 0.16863],
  top: 575, height: 552, mt: 11, mb: 37, ml: 131, mr: 23,
  title: "The percentage of COX genes", titleDx: -83,
  test: "Kruskal–Wallis, p = 0.0042", testDx: 13, testDy: 57
}));
page.appendChild(boxPanel({
  names: namesC, obs: obsC, q1: q1C, med: medC, q3: q3C, lo: loC, hi: hiC, out: outC,
  ticks: ticksC, minor: minorC, fmt: d3.format("d"), domain: [-434, 11723],
  top: 1160, height: 554, mt: 13, mb: 37, ml: 117, mr: 1,
  title: "Number of genes in LCC", titleDx: -87,
  test: "Kruskal–Wallis, p < 2.2e–16", testDx: 10, testDy: 56
}));

// panel captions
[["(a)", 550], ["(b)", 1135], ["(c)", 1716]].forEach(([label, top]) => {
  const d = document.createElement("div");
  d.className = "cap";
  d.style.left = "366px";
  d.style.top = top + "px";
  d.textContent = label;
  page.appendChild(d);
});
</script>
</body>
</html>
